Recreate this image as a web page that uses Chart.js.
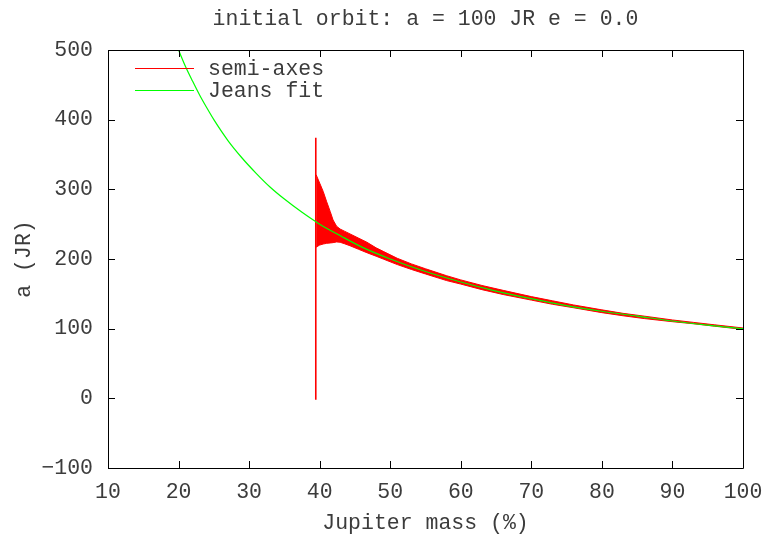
<!DOCTYPE html>
<html>
<head>
<meta charset="utf-8">
<script src="https://cdn.jsdelivr.net/npm/chart.js@4/dist/chart.umd.min.js"></script>
<style>
  html, body { margin: 0; padding: 0; background: #ffffff; }
  #wrap { width: 765px; height: 537px; position: relative; }
</style>
</head>
<body>
<div id="wrap"><canvas id="c" width="765" height="537"></canvas></div>
<script>
// ---- data ----
const chartTitle = "initial orbit: a = 100 JR e = 0.0";
const xTitle = "Jupiter mass (%)";
const yTitle = "a (JR)";
const seriesNames = ["semi-axes", "Jeans fit"];

const xTicks = [10, 20, 30, 40, 50, 60, 70, 80, 90, 100];
const yTicks = [-100, 0, 100, 200, 300, 400, 500];

// semi-axes: envelope of the oscillating curve (upper / lower values)
const semiMass  = [39.5, 40.0, 40.5, 41.0, 41.5, 41.9, 42.4, 42.9, 43.5, 44.3, 45.5, 46.7, 48.0, 49.0, 51.0, 53.0, 55.0, 58.0, 60.0, 63.0, 66.0, 70.0, 73.0, 76.0, 80.0, 83.0, 86.0, 90.0, 93.0, 96.0, 100.0];
const semiUpper = [321, 309, 297, 282, 268, 256, 247, 243, 240, 236, 230, 224, 216, 211, 201, 193, 186, 176, 170, 162, 155, 146, 140, 134, 127, 122, 118, 112.5, 109, 105.5, 101];
const semiLower = [217, 220, 221.5, 222.5, 223, 223.5, 224.5, 224, 222, 219, 214, 209, 204, 200, 192, 185, 178.5, 169, 164, 156, 149, 141, 135, 130, 123, 118.5, 114.5, 110, 107, 103.5, 99];
// the vertical jump at the start of the semi-axes series
const spikeMass = [39.45, 39.45];
const spikeA    = [-2, 374];

// Jeans fit curve
const jeansMass = [20, 21, 22, 23, 24, 25, 27, 29, 31, 33, 35, 37.5, 40, 43, 46, 50, 55, 60, 65, 70, 75, 80, 85, 90, 95, 100];
const jeansA    = [500, 476, 455, 435, 417, 400, 370, 345, 323, 303, 286, 267, 250, 233, 217, 200, 182, 167, 154, 143, 133, 125, 118, 111, 105, 100];

// ---- build chart ----
const FONT = "'Liberation Mono', 'DejaVu Sans Mono', monospace";
const FSIZE = 21.5;
const TEXT = "#3c3c3c";
const RED = "#ff0000";
const GREEN = "#00ff00";

const pts = (xs, ys) => xs.map((x, i) => ({ x: x, y: ys[i] }));

const frame = {
  id: 'gnuFrame',
  afterDraw(chart) {
    const ctx = chart.ctx;
    const a = chart.chartArea;
    const xs = chart.scales.x, ys = chart.scales.y;
    const L = 7;
    ctx.save();
    ctx.strokeStyle = "#000";
    ctx.lineWidth = 1;
    ctx.beginPath();
    ctx.rect(Math.round(a.left) + 0.5, Math.round(a.top) + 0.5,
             Math.round(a.right - a.left), Math.round(a.bottom - a.top));
    xTicks.forEach(v => {
      const px = Math.round(xs.getPixelForValue(v)) + 0.5;
      ctx.moveTo(px, a.bottom); ctx.lineTo(px, a.bottom - L);
      ctx.moveTo(px, a.top); ctx.lineTo(px, a.top + L);
    });
    yTicks.forEach(v => {
      const py = Math.round(ys.getPixelForValue(v)) + 0.5;
      ctx.moveTo(a.left, py); ctx.lineTo(a.left + L, py);
      ctx.moveTo(a.right, py); ctx.lineTo(a.right - L, py);
    });
    ctx.stroke();

    // title
    ctx.fillStyle = TEXT;
    ctx.font = FSIZE + "px " + FONT;
    ctx.textAlign = "center";
    ctx.textBaseline = "middle";
    ctx.fillText(chartTitle, (a.left + a.right) / 2, 19);

    // legend (inside plot, top-left)
    const rows = [{ c: RED, t: seriesNames[0], y: 68 }, { c: GREEN, t: seriesNames[1], y: 90 }];
    rows.forEach(r => {
      ctx.strokeStyle = r.c;
      ctx.lineWidth = 1;
      ctx.beginPath();
      ctx.moveTo(135, r.y + 0.5); ctx.lineTo(194, r.y + 0.5);
      ctx.stroke();
      ctx.fillStyle = TEXT;
      ctx.textAlign = "left";
      ctx.fillText(r.t, 208, r.y + 1);
    });
    ctx.restore();
  }
};

new Chart(document.getElementById('c'), {
  type: 'line',
  data: {
    datasets: [
      {
        label: seriesNames[1],
        data: pts(jeansMass, jeansA),
        borderColor: GREEN,
        borderWidth: 1.2,
        pointRadius: 0,
        cubicInterpolationMode: 'monotone',
        fill: false,
        order: 0
      },
      {
        label: seriesNames[0],
        data: pts(semiMass, semiUpper),
        borderColor: RED,
        borderWidth: 1,
        pointRadius: 0,
        tension: 0,
        fill: false,
        order: 1
      },
      {
        label: seriesNames[0] + " (lower)",
        data: pts(semiMass, semiLower),
        borderColor: RED,
        backgroundColor: RED,
        borderWidth: 1,
        pointRadius: 0,
        tension: 0,
        fill: '-1',
        order: 1
      },
      {
        label: seriesNames[0] + " (jump)",
        data: pts(spikeMass, spikeA),
        borderColor: RED,
        borderWidth: 1.6,
        pointRadius: 0,
        fill: false,
        order: 1
      }
    ]
  },
  options: {
    responsive: false,
    animation: false,
    events: [],
    layout: { padding: { top: 50, right: 22, left: 0, bottom: 0 } },
    plugins: {
      legend: { display: false },
      title: { display: false },
      tooltip: { enabled: false }
    },
    scales: {
      x: {
        type: 'linear',
        min: 10, max: 100,
        afterBuildTicks: s => { s.ticks = xTicks.map(v => ({ value: v })); },
        afterFit: s => { s.height = 69; s.paddingLeft = 0; s.paddingRight = 0; },
        grid: { display: false, drawTicks: false },
        border: { display: false },
        ticks: { font: { family: FONT, size: FSIZE }, color: TEXT, padding: 11, maxRotation: 0 },
        title: { display: true, text: xTitle, font: { family: FONT, size: FSIZE }, color: TEXT, padding: { top: 0, bottom: 1 } }
      },
      y: {
        type: 'linear',
        min: -100, max: 500,
        afterBuildTicks: s => { s.ticks = yTicks.map(v => ({ value: v })); },
        afterFit: s => { s.width = 108; s.paddingTop = 0; s.paddingBottom = 0; },
        grid: { display: false, drawTicks: false },
        border: { display: false },
        ticks: { font: { family: FONT, size: FSIZE }, color: TEXT, padding: 15, callback: v => String(v).replace('-', '\u2212') },
        title: { display: true, text: yTitle, font: { family: FONT, size: FSIZE }, color: TEXT, padding: { top: 11, bottom: 0 } }
      }
    }
  },
  plugins: [frame]
});
</script>
</body>
</html>
